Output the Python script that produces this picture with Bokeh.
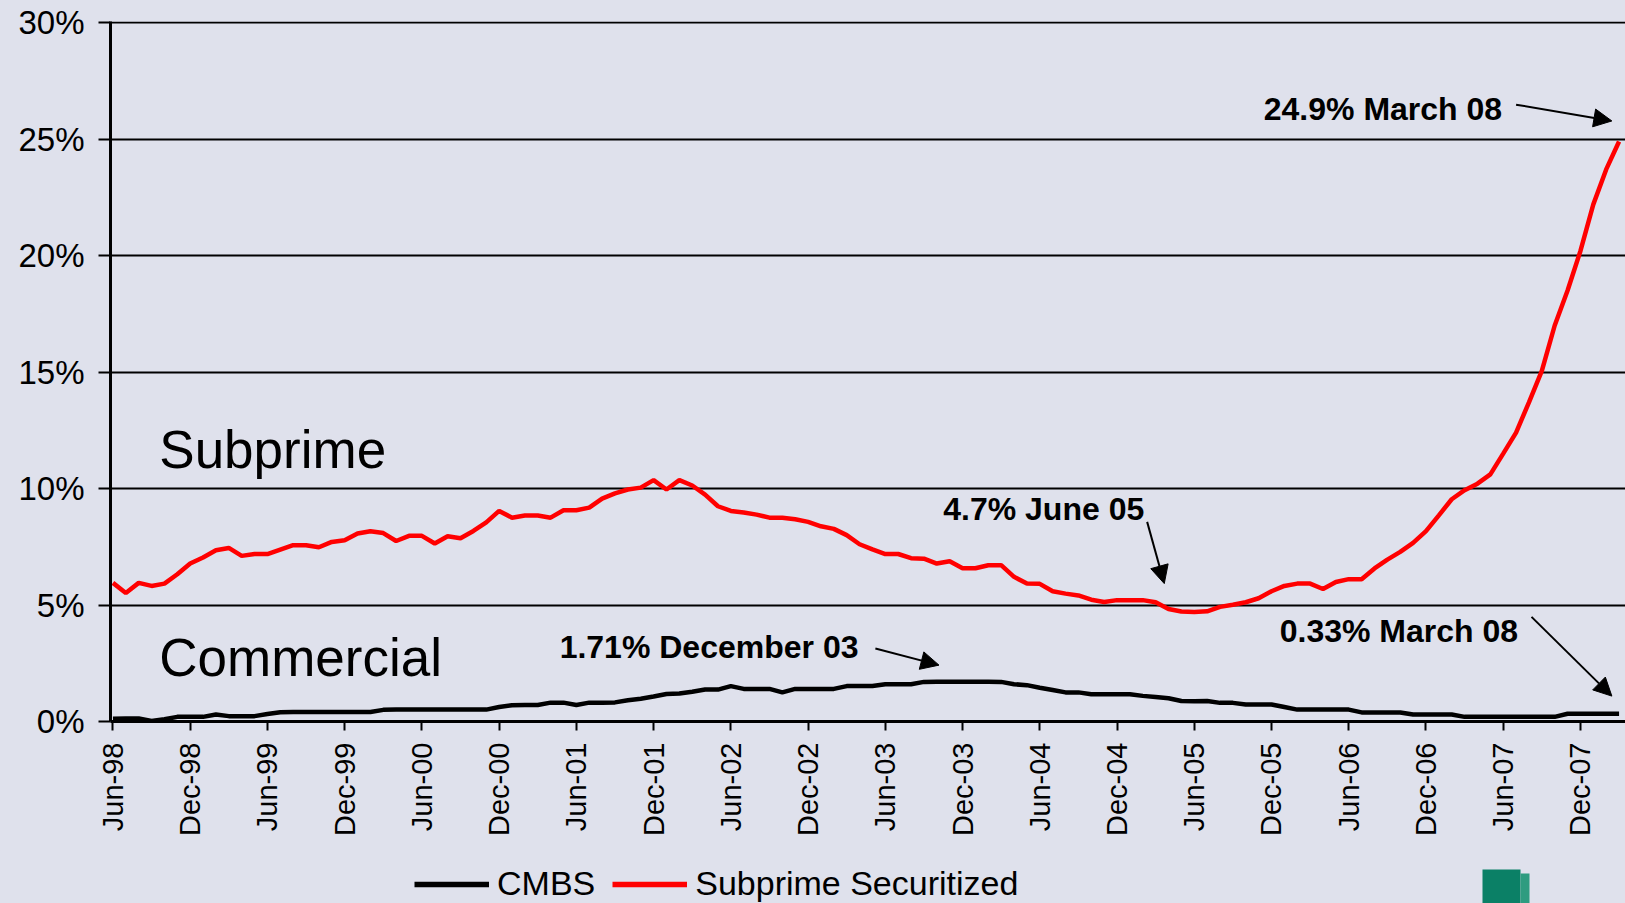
import math
from bokeh.plotting import figure
from bokeh.layouts import column
from bokeh.models import (FixedTicker, PrintfTickFormatter, Label, Arrow, NormalHead,
                          Legend, LegendItem, Range1d)
from bokeh.embed import file_html
from bokeh.resources import INLINE

# ---------------- data (monthly, Jun-98 .. Mar-08) ----------------
month_index = list(range(118))
tick_labels = ["Jun-98", "Dec-98", "Jun-99", "Dec-99", "Jun-00", "Dec-00", "Jun-01", "Dec-01",
               "Jun-02", "Dec-02", "Jun-03", "Dec-03", "Jun-04", "Dec-04", "Jun-05", "Dec-05",
               "Jun-06", "Dec-06", "Jun-07", "Dec-07"]
tick_positions = [6 * k for k in range(len(tick_labels))]

subprime = [5.95, 5.52, 5.95, 5.82, 5.92, 6.32, 6.78, 7.04, 7.35, 7.45,
            7.11, 7.19, 7.19, 7.38, 7.57, 7.57, 7.48, 7.71, 7.78, 8.07,
            8.17, 8.09, 7.75, 7.97, 7.97, 7.64, 7.95, 7.87, 8.18, 8.55,
            9.04, 8.75, 8.84, 8.84, 8.75, 9.07, 9.07, 9.18, 9.57, 9.79,
            9.96, 10.04, 10.36, 9.96, 10.36, 10.13, 9.74, 9.24, 9.04, 8.97,
            8.88, 8.75, 8.75, 8.68, 8.57, 8.38, 8.27, 8.00, 7.61, 7.39,
            7.19, 7.19, 7.01, 6.99, 6.78, 6.88, 6.58, 6.58, 6.71, 6.71,
            6.21, 5.92, 5.91, 5.59, 5.49, 5.41, 5.23, 5.13, 5.21, 5.21,
            5.21, 5.12, 4.83, 4.72, 4.70, 4.73, 4.92, 5.01, 5.12, 5.29,
            5.59, 5.82, 5.92, 5.92, 5.69, 5.99, 6.11, 6.11, 6.57, 6.95,
            7.28, 7.67, 8.17, 8.85, 9.54, 9.93, 10.21, 10.61, 11.50, 12.40,
            13.70, 15.05, 17.00, 18.50, 20.20, 22.20, 23.70, 24.90]

cmbs = [0.12, 0.13, 0.13, 0.02, 0.10, 0.20, 0.20, 0.20, 0.30, 0.23,
        0.23, 0.23, 0.32, 0.40, 0.41, 0.41, 0.41, 0.41, 0.41, 0.41,
        0.41, 0.50, 0.51, 0.51, 0.51, 0.51, 0.51, 0.51, 0.51, 0.51,
        0.62, 0.70, 0.71, 0.71, 0.81, 0.81, 0.71, 0.81, 0.81, 0.82,
        0.91, 0.98, 1.07, 1.18, 1.20, 1.28, 1.37, 1.37, 1.52, 1.40,
        1.40, 1.40, 1.25, 1.40, 1.40, 1.40, 1.40, 1.52, 1.52, 1.52,
        1.60, 1.60, 1.60, 1.70, 1.71, 1.71, 1.71, 1.71, 1.71, 1.70,
        1.60, 1.56, 1.45, 1.35, 1.25, 1.25, 1.17, 1.17, 1.17, 1.17,
        1.10, 1.05, 1.00, 0.88, 0.87, 0.88, 0.80, 0.80, 0.73, 0.73,
        0.73, 0.62, 0.51, 0.51, 0.51, 0.51, 0.51, 0.39, 0.39, 0.39,
        0.39, 0.30, 0.30, 0.30, 0.30, 0.20, 0.20, 0.20, 0.20, 0.20,
        0.20, 0.20, 0.20, 0.33, 0.33, 0.33, 0.33, 0.33]

y_ticks = [0, 5, 10, 15, 20, 25, 30]
series_names = ["CMBS", "Subprime Securitized"]
series_colors = ["black", "#FF0000"]

BG = "#DFE1EC"
FONT = "Liberation Sans"

p = figure(width=1625, height=850,
           x_range=Range1d(-0.19, 117.5), y_range=Range1d(0, 30.05),
           output_backend="svg", toolbar_location=None,
           min_border_left=110, min_border_right=0, min_border_top=21, min_border_bottom=129,
           background_fill_color=BG, border_fill_color=BG, outline_line_color=None)

p.line(month_index, cmbs, line_color=series_colors[0], line_width=4.5)
p.line(month_index, subprime, line_color=series_colors[1], line_width=4.5)

# axes
p.xgrid.visible = False
p.ygrid.ticker = FixedTicker(ticks=y_ticks)
p.ygrid.grid_line_color = "black"
p.ygrid.grid_line_width = 2

p.yaxis.ticker = FixedTicker(ticks=y_ticks)
p.yaxis.formatter = PrintfTickFormatter(format="%d%%")
p.yaxis.axis_line_width = 3
p.yaxis.axis_line_color = "black"
p.yaxis.major_tick_line_width = 2
p.yaxis.major_tick_out = 12
p.yaxis.major_tick_in = 0
p.yaxis.minor_tick_line_color = None
p.yaxis.major_label_text_font = FONT
p.yaxis.major_label_text_font_size = "33px"
p.yaxis.major_label_text_color = "black"
p.yaxis.major_label_standoff = 14

p.xaxis.ticker = FixedTicker(ticks=tick_positions)
p.xaxis.major_label_overrides = {pos: lab for pos, lab in zip(tick_positions, tick_labels)}
p.xaxis.major_label_orientation = math.pi / 2
p.xaxis.axis_line_width = 3
p.xaxis.axis_line_color = "black"
p.xaxis.major_tick_line_width = 2
p.xaxis.major_tick_out = 9
p.xaxis.major_tick_in = 0
p.xaxis.minor_tick_line_color = None
p.xaxis.major_label_text_font = FONT
p.xaxis.major_label_text_font_size = "29px"
p.xaxis.major_label_text_color = "black"
p.xaxis.major_label_standoff = 12

# big labels
p.add_layout(Label(x=3.6, y=11.67, text="Subprime", text_font=FONT, text_font_size="53px",
                   text_color="black", text_baseline="alphabetic"))
p.add_layout(Label(x=3.6, y=2.74, text="Commercial", text_font=FONT, text_font_size="53px",
                   text_color="black", text_baseline="alphabetic"))

# annotations
notes = [
    ("24.9% March 08", 89.4, 26.28, (109.0, 26.48, 116.44, 25.78)),
    ("4.7% June 05", 64.5, 9.13, (80.34, 8.57, 81.67, 5.92)),
    ("1.71% December 03", 34.7, 3.20, (59.23, 3.13, 64.17, 2.42)),
    ("0.33% March 08", 90.64, 3.87, (110.2, 4.49, 116.44, 1.09)),
]
for txt, tx, ty, (xs, ys, xe, ye) in notes:
    p.add_layout(Label(x=tx, y=ty, text=txt, text_font=FONT, text_font_size="32px",
                       text_font_style="bold", text_color="black", text_baseline="alphabetic"))
    p.add_layout(Arrow(end=NormalHead(size=18, fill_color="black", line_color="black"),
                       x_start=xs, y_start=ys, x_end=xe, y_end=ye,
                       line_color="black", line_width=2))

# ---------------- legend strip ----------------
p2 = figure(width=1625, height=53, x_range=Range1d(110, 1625), y_range=Range1d(0, 53),
            output_backend="svg", toolbar_location=None, min_border=0,
            background_fill_color=BG, border_fill_color=BG, outline_line_color=None)
p2.axis.visible = False
p2.grid.visible = False
items = []
for name, col in zip(series_names, series_colors):
    # off-screen stand-ins so the legend can draw each series' line style
    r = p2.line([0, 1], [-100, -100], line_color=col, line_width=5.5)
    items.append(LegendItem(label=name, renderers=[r]))
legend = Legend(items=items, orientation="horizontal", location=(304, 0),
                label_text_font=FONT, label_text_font_size="34px", label_text_color="black",
                glyph_width=75, glyph_height=20, label_standoff=8, spacing=17,
                padding=0, margin=0, background_fill_alpha=0, border_line_color=None)
p2.add_layout(legend, "center")
# partial logo at bottom right
p2.quad(left=[1482], right=[1520], bottom=[0], top=[34], fill_color="#0B8066", line_color=None)
p2.quad(left=[1520], right=[1529], bottom=[0], top=[30], fill_color="#2E9C80", line_color=None)

layout = column(p, p2, spacing=0)
html = file_html(layout, INLINE)
html = html.replace("</head>", "<style>html,body{background:%s;}</style></head>" % BG, 1)
open("out.html", "w").write(html)
